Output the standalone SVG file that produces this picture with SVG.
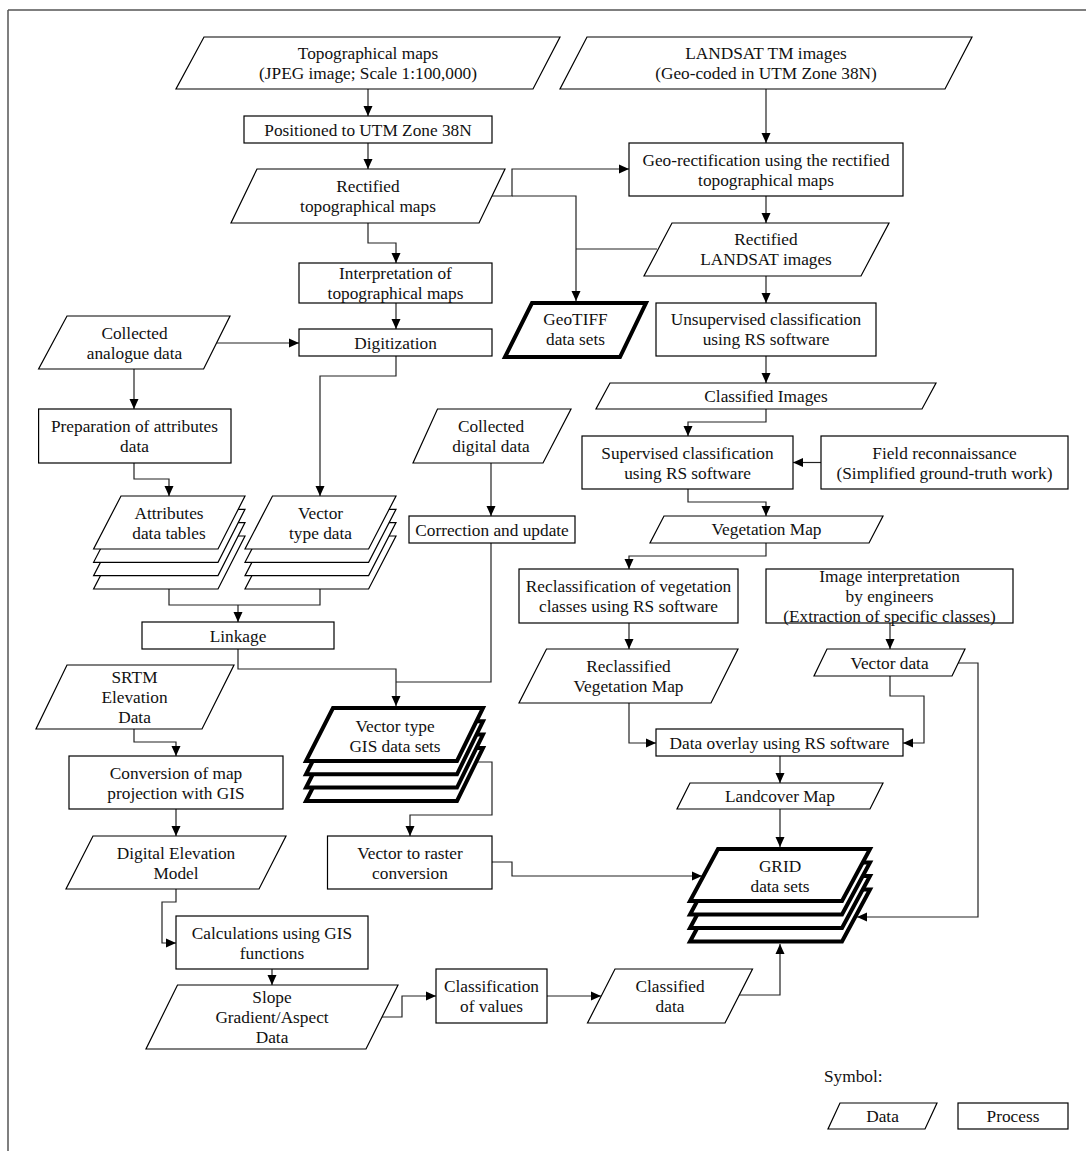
<svg xmlns="http://www.w3.org/2000/svg" xmlns:xlink="http://www.w3.org/1999/xlink" width="1086" height="1151" viewBox="0 0 1086 1151">
  <style>
    .proc { fill: #fff; stroke: #000; stroke-width: 1.2; }
    .data { fill: #fff; stroke: #000; stroke-width: 1.2; stroke-linejoin: miter; }
    .bold { fill: #fff; stroke: #000; stroke-width: 4; stroke-linejoin: miter; }
    .ln { fill: none; stroke: #222; stroke-width: 1.2; }
    .arr { fill: none; stroke: #222; stroke-width: 1.2; marker-end: url(#ah); }
    .frame { fill: none; stroke: #555; stroke-width: 1.5; }
    text { font-family: "Liberation Serif", "Times New Roman", serif; font-size: 17.3px; fill: #111; text-anchor: middle; }
    .left { text-anchor: start; }
  </style>
  <defs>
    <marker id="ah" viewBox="0 0 10 10" refX="10" refY="5" markerWidth="10" markerHeight="10" markerUnits="userSpaceOnUse" orient="auto">
      <path d="M0,0.5 L10,5 L0,9.5 z" fill="#000"/>
    </marker>
    <!-- stacked-layer outlines -->
    <polygon id="attrLayer" class="data" points="121,496 245,496 218,549 93.6,549"/>
    <polygon id="vecLayer" class="data" points="272.5,496 396,496 368.6,549 245,549"/>
    <polygon id="gisLayer" class="bold" points="333,708 483,708 457,761 306,761"/>
    <polygon id="gridLayer" class="bold" points="718,849 870,849 842,901 690,901"/>
  </defs>

  <rect width="1086" height="1151" fill="#fff"/>
  <path class="frame" d="M8,10 H1086 M8,10 V1151"/>

  <!-- connectors -->
  <g id="connectors">
    <path class="arr" d="M368,89 V116"/>
    <path class="arr" d="M368,143 V169"/>
    <path class="arr" d="M368,223 V243 H396 V263"/>
    <path class="arr" d="M396,303 V329"/>
    <path class="arr" d="M217,343 H299"/>
    <path class="arr" d="M134,369 V409"/>
    <path class="arr" d="M134,463 V479 H169 V496"/>
    <path class="arr" d="M396,356 V376 H320 V496"/>
    <path class="ln" d="M169,589 V605 H320 V589"/>
    <path class="arr" d="M238,605 V622"/>
    <path class="arr" d="M238,649 V669 H396 V706"/>
    <path class="arr" d="M491,463 V516"/>
    <path class="ln" d="M491,543 V682 H396"/>
    <path class="arr" d="M134,729 V742 H176 V756"/>
    <path class="arr" d="M176,809 V836"/>
    <path class="arr" d="M463,762 H492 V815 H410 V836"/>
    <path class="arr" d="M492,862 H512 V876 H702"/>
    <path class="arr" d="M176,889 V902 H162 V943 H176"/>
    <path class="arr" d="M272,969 V985"/>
    <path class="arr" d="M382,1017 H402 V996 H436"/>
    <path class="arr" d="M547,996 H601"/>
    <path class="arr" d="M739,995 H780 V944"/>
    <path class="arr" d="M492,196 H512 V169 H629"/>
    <path class="arr" d="M512,196 H576 V301"/>
    <path class="ln" d="M657,249 H576"/>
    <path class="arr" d="M766,89 V143"/>
    <path class="arr" d="M766,196 V223"/>
    <path class="arr" d="M766,276 V303"/>
    <path class="arr" d="M766,356 V383"/>
    <path class="arr" d="M766,409 V422 H688 V436"/>
    <path class="arr" d="M821,462.5 H793"/>
    <path class="arr" d="M688,489 V502 H766 V516"/>
    <path class="arr" d="M766,543 V556 H629 V569"/>
    <path class="arr" d="M629,623 V649"/>
    <path class="arr" d="M890,623 V649"/>
    <path class="arr" d="M629,703 V743 H656"/>
    <path class="arr" d="M890,676 V696 H924 V743 H903"/>
    <path class="arr" d="M958,663 H978 V917 H857"/>
    <path class="arr" d="M780,756 V783"/>
    <path class="arr" d="M780,809 V847"/>
  </g>

  <!-- left column: topographical maps branch -->
  <g id="topo">
    <polygon class="data" points="204,37 560,37 533,89 176,89"/>
    <text x="368" y="59">Topographical maps</text>
    <text x="368" y="79">(JPEG image; Scale 1:100,000)</text>
  </g>
  <g id="positioned">
    <rect class="proc" x="244" y="116" width="248" height="27"/>
    <text x="368" y="136">Positioned to UTM Zone 38N</text>
  </g>
  <g id="rectified-topo">
    <polygon class="data" points="257,169 505,169 479,223 231,223"/>
    <text x="368" y="192">Rectified</text>
    <text x="368" y="212">topographical maps</text>
  </g>
  <g id="interpretation">
    <rect class="proc" x="299" y="263" width="193" height="40"/>
    <text x="395.5" y="279">Interpretation of</text>
    <text x="395.5" y="299">topographical maps</text>
  </g>
  <g id="digitization">
    <rect class="proc" x="299" y="329" width="193" height="27"/>
    <text x="395.5" y="348.5">Digitization</text>
  </g>
  <g id="analogue">
    <polygon class="data" points="67,316 230,316 203.6,369 38.6,369"/>
    <text x="134.5" y="339">Collected</text>
    <text x="134.5" y="359">analogue data</text>
  </g>
  <g id="preparation">
    <rect class="proc" x="38.6" y="409" width="192.4" height="54"/>
    <text x="134.5" y="432">Preparation of attributes</text>
    <text x="134.5" y="452">data</text>
  </g>
  <g id="attributes">
    <use xlink:href="#attrLayer" y="40"/>
    <use xlink:href="#attrLayer" y="26.6"/>
    <use xlink:href="#attrLayer" y="13.3"/>
    <use xlink:href="#attrLayer"/>
    <text x="169" y="519">Attributes</text>
    <text x="169" y="539">data tables</text>
  </g>
  <g id="vector-type-data">
    <use xlink:href="#vecLayer" y="40"/>
    <use xlink:href="#vecLayer" y="26.6"/>
    <use xlink:href="#vecLayer" y="13.3"/>
    <use xlink:href="#vecLayer"/>
    <text x="320.5" y="519">Vector</text>
    <text x="320.5" y="539">type data</text>
  </g>
  <g id="linkage">
    <rect class="proc" x="142" y="622" width="192" height="27"/>
    <text x="238" y="642">Linkage</text>
  </g>
  <g id="digital">
    <polygon class="data" points="437.5,409 571,409 543,463 413,463"/>
    <text x="491" y="432">Collected</text>
    <text x="491" y="452">digital data</text>
  </g>
  <g id="correction">
    <rect class="proc" x="409" y="516" width="166" height="27"/>
    <text x="492" y="536">Correction and update</text>
  </g>
  <g id="srtm">
    <polygon class="data" points="67,665 234,665 202,729 36,729"/>
    <text x="134.5" y="683">SRTM</text>
    <text x="134.5" y="703">Elevation</text>
    <text x="134.5" y="723">Data</text>
  </g>
  <g id="conversion">
    <rect class="proc" x="69" y="756" width="214" height="53"/>
    <text x="176" y="779">Conversion of map</text>
    <text x="176" y="799">projection with GIS</text>
  </g>
  <g id="dem">
    <polygon class="data" points="93,836 286,836 259,889 66,889"/>
    <text x="176" y="859">Digital Elevation</text>
    <text x="176" y="879">Model</text>
  </g>
  <g id="gis-datasets">
    <use xlink:href="#gisLayer" y="40"/>
    <use xlink:href="#gisLayer" y="26.6"/>
    <use xlink:href="#gisLayer" y="13.3"/>
    <use xlink:href="#gisLayer"/>
    <text x="395" y="732">Vector type</text>
    <text x="395" y="752">GIS data sets</text>
  </g>
  <g id="vector-to-raster">
    <rect class="proc" x="327.5" y="836" width="164.5" height="53"/>
    <text x="410" y="859">Vector to raster</text>
    <text x="410" y="879">conversion</text>
  </g>
  <g id="calculations">
    <rect class="proc" x="176" y="916" width="192" height="53"/>
    <text x="272" y="939">Calculations using GIS</text>
    <text x="272" y="959">functions</text>
  </g>
  <g id="slope">
    <polygon class="data" points="177.5,985 398,985 366,1049 146,1049"/>
    <text x="272" y="1003">Slope</text>
    <text x="272" y="1023">Gradient/Aspect</text>
    <text x="272" y="1043">Data</text>
  </g>
  <g id="classification-values">
    <rect class="proc" x="436" y="969" width="111" height="54"/>
    <text x="491.5" y="992">Classification</text>
    <text x="491.5" y="1012">of values</text>
  </g>
  <g id="classified-data">
    <polygon class="data" points="615,969 752.5,969 725,1023 587.5,1023"/>
    <text x="670" y="992">Classified</text>
    <text x="670" y="1012">data</text>
  </g>

  <!-- right column: LANDSAT branch -->
  <g id="landsat">
    <polygon class="data" points="587,37 972,37 945,89 560,89"/>
    <text x="766" y="59">LANDSAT TM images</text>
    <text x="766" y="79">(Geo-coded in UTM Zone 38N)</text>
  </g>
  <g id="georectification">
    <rect class="proc" x="629" y="143" width="274" height="53"/>
    <text x="766" y="166">Geo-rectification using the rectified</text>
    <text x="766" y="186">topographical maps</text>
  </g>
  <g id="rectified-landsat">
    <polygon class="data" points="672,223 889,223 861,276 644,276"/>
    <text x="766" y="245">Rectified</text>
    <text x="766" y="265">LANDSAT images</text>
  </g>
  <g id="geotiff">
    <polygon class="bold" points="532,303 646,303 620,357 505,357"/>
    <text x="575.5" y="325">GeoTIFF</text>
    <text x="575.5" y="345">data sets</text>
  </g>
  <g id="unsupervised">
    <rect class="proc" x="656" y="303" width="220" height="53"/>
    <text x="766" y="325">Unsupervised classification</text>
    <text x="766" y="345">using RS software</text>
  </g>
  <g id="classified-images">
    <polygon class="data" points="610,383 936,383 922,409 596,409"/>
    <text x="766" y="402">Classified Images</text>
  </g>
  <g id="supervised">
    <rect class="proc" x="582" y="436" width="211" height="53"/>
    <text x="687.5" y="459">Supervised classification</text>
    <text x="687.5" y="479">using RS software</text>
  </g>
  <g id="field">
    <rect class="proc" x="821" y="436" width="247" height="53"/>
    <text x="944.5" y="459">Field reconnaissance</text>
    <text x="944.5" y="479">(Simplified ground-truth work)</text>
  </g>
  <g id="vegetation-map">
    <polygon class="data" points="664,516 883,516 869,543 650,543"/>
    <text x="766.5" y="535">Vegetation Map</text>
  </g>
  <g id="reclassification">
    <rect class="proc" x="519" y="569" width="219" height="54"/>
    <text x="628.5" y="592">Reclassification of vegetation</text>
    <text x="628.5" y="612">classes using RS software</text>
  </g>
  <g id="image-interpretation">
    <rect class="proc" x="766" y="569" width="247" height="54"/>
    <text x="889.5" y="582">Image interpretation</text>
    <text x="889.5" y="602">by engineers</text>
    <text x="889.5" y="622">(Extraction of specific classes)</text>
  </g>
  <g id="reclassified-map">
    <polygon class="data" points="546.5,649 738,649 711,703 519,703"/>
    <text x="628.5" y="672">Reclassified</text>
    <text x="628.5" y="692">Vegetation Map</text>
  </g>
  <g id="vector-data">
    <polygon class="data" points="827,649 965,649 952,676 814,676"/>
    <text x="889.5" y="669">Vector data</text>
  </g>
  <g id="overlay">
    <rect class="proc" x="656" y="729" width="247" height="27"/>
    <text x="779.5" y="749">Data overlay using RS software</text>
  </g>
  <g id="landcover">
    <polygon class="data" points="690,783 883,783 870,809 677,809"/>
    <text x="780" y="802">Landcover Map</text>
  </g>
  <g id="grid-datasets">
    <use xlink:href="#gridLayer" y="40.5"/>
    <use xlink:href="#gridLayer" y="27"/>
    <use xlink:href="#gridLayer" y="13.5"/>
    <use xlink:href="#gridLayer"/>
    <text x="780" y="872">GRID</text>
    <text x="780" y="892">data sets</text>
  </g>

  <!-- legend -->
  <g id="legend">
    <text class="left" x="824" y="1082">Symbol:</text>
    <polygon class="data" points="840,1103 937,1103 925,1129 828,1129"/>
    <text x="882.5" y="1122">Data</text>
    <rect class="proc" x="958" y="1103" width="110" height="26"/>
    <text x="1013" y="1122">Process</text>
  </g>
</svg>
